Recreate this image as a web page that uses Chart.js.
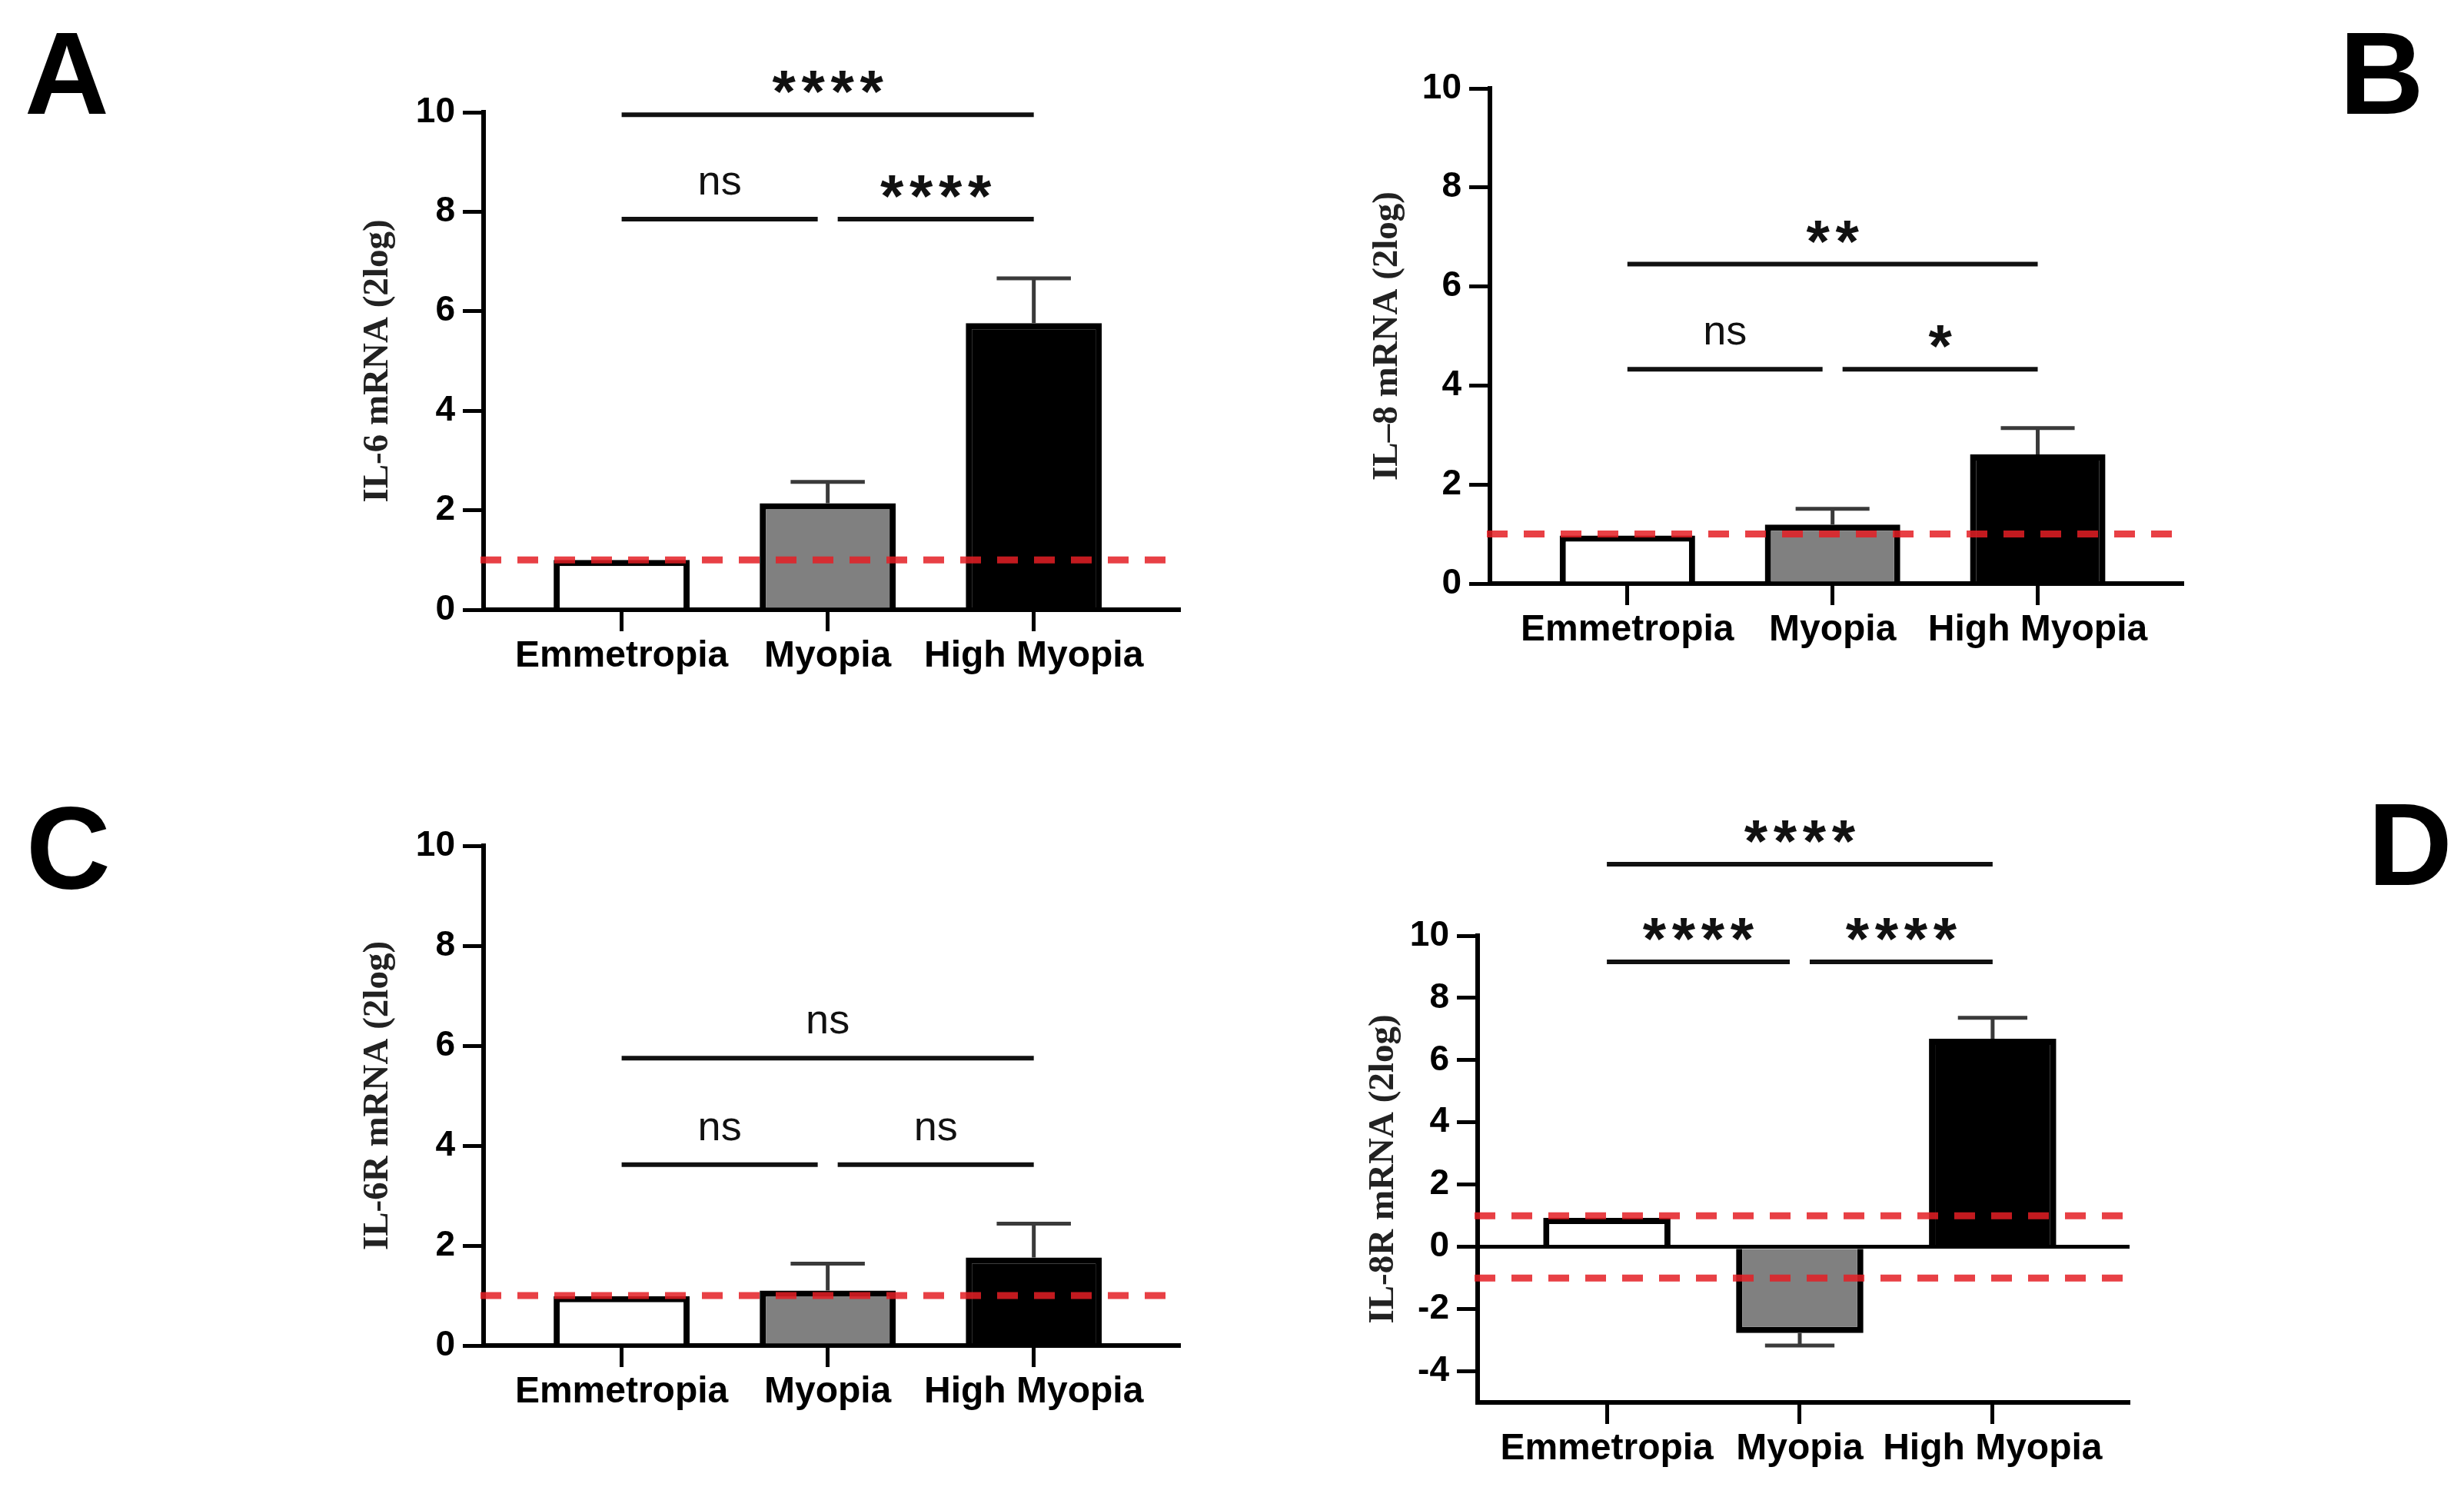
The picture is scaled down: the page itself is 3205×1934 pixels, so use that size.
<!DOCTYPE html>
<html>
<head>
<meta charset="utf-8">
<title>IL-6 / IL-8 mRNA</title>
<script src="https://cdn.jsdelivr.net/npm/chart.js@4.4.1/dist/chart.umd.min.js"></script>
<style>
  body { margin: 0; background: #fff; width: 3205px; height: 1934px; position: relative; overflow: hidden; }
  canvas { position: absolute; }
  .letter { position: absolute; font: bold 152px "Liberation Sans", Arial, sans-serif; line-height: 1; color: #000; }
</style>
</head>
<body>
<div class="letter" style="left:32px;top:19px">A</div>
<div class="letter" style="left:3043px;top:19px">B</div>
<div class="letter" style="left:34px;top:1027px">C</div>
<div class="letter" style="left:3080px;top:1022px">D</div>

<canvas id="chartA" width="1180" height="960" style="left:400px;top:0px"></canvas>
<canvas id="chartB" width="1190" height="960" style="left:1700px;top:0px"></canvas>
<canvas id="chartC" width="1180" height="974" style="left:400px;top:960px"></canvas>
<canvas id="chartD" width="1120" height="974" style="left:1700px;top:960px"></canvas>

<script>
// datos
const groups = ['Emmetropia', 'Myopia', 'High Myopia'];
const yTicksMain = [0, 2, 4, 6, 8, 10];
const yTicksD = [-4, -2, 0, 2, 4, 6, 8, 10];

const il6Mean = [1.0, 2.14, 5.76];
const il6Sem = [0, 0.43, 0.90];
const il8Mean = [0.97, 1.19, 2.61];
const il8Sem = [0, 0.32, 0.53];
const il6rMean = [0.99, 1.10, 1.76];
const il6rSem = [0, 0.54, 0.68];
const il8rMean = [0.93, -2.77, 6.69];
const il8rSem = [0, 0.40, 0.67];

// comparaciones: pares de grupos, texto y altura de la barra
const sigPairs = [[0, 2], [0, 1], [1, 2]];
const il6SigText = ['****', 'ns', '****'];
const il6SigY = [9.95, 7.85, 7.85];
const il8SigText = ['**', 'ns', '*'];
const il8SigY = [6.45, 4.33, 4.33];
const il6rSigText = ['ns', 'ns', 'ns'];
const il6rSigY = [5.75, 3.62, 3.62];
const il8rSigText = ['****', '****', '****'];
const il8rSigY = [12.3, 9.16, 9.16];

// lineas de referencia (rojas)
const refUp = [1];
const refBoth = [1, -1];

const SANS = '"Liberation Sans", Arial, sans-serif';
const SERIF = '"Liberation Serif", "Times New Roman", serif';
const barFill = ['#ffffff', '#808080', '#000000'];

const panels = [
  { id: 'chartA', title: 'IL-6 mRNA (2log)', mean: il6Mean, sem: il6Sem, sigText: il6SigText, sigY: il6SigY,
    yMin: 0, yMax: 10, yTicks: yTicksMain, refs: refUp, zeroLine: false,
    padTop: 146, padRight: 45, yWidth: 229, xHeight: 167, titlePad: 64 },
  { id: 'chartB', title: 'IL–8 mRNA (2log)', mean: il8Mean, sem: il8Sem, sigText: il8SigText, sigY: il8SigY,
    yMin: 0, yMax: 10, yTicks: yTicksMain, refs: refUp, zeroLine: false,
    padTop: 115, padRight: 50, yWidth: 238, xHeight: 201, titlePad: 77 },
  { id: 'chartC', title: 'IL-6R mRNA (2log)', mean: il6rMean, sem: il6rSem, sigText: il6rSigText, sigY: il6rSigY,
    yMin: 0, yMax: 10, yTicks: yTicksMain, refs: refUp, zeroLine: false,
    padTop: 140, padRight: 45, yWidth: 229, xHeight: 184, titlePad: 64 },
  { id: 'chartD', title: 'IL-8R mRNA (2log)', mean: il8rMean, sem: il8rSem, sigText: il8rSigText, sigY: il8rSigY,
    yMin: -5, yMax: 10, yTicks: yTicksD, refs: refBoth, zeroLine: true,
    padTop: 257, padRight: 50, yWidth: 222, xHeight: 110, titlePad: 72 }
];

function centeredText(ctx, str, cx, cy) {
  const m = ctx.measureText(str);
  ctx.fillText(str, cx, cy + (m.actualBoundingBoxAscent - m.actualBoundingBoxDescent) / 2);
}

// barras de error, lineas rojas y comparaciones
function makeAnnotate(p) {
  return {
    id: 'annotate',
    afterDatasetsDraw(chart) {
      const { ctx, chartArea, scales: { x, y } } = chart;
      const pitch = x.getPixelForValue(1) - x.getPixelForValue(0);
      ctx.save();

      ctx.strokeStyle = '#3a3a3a';
      ctx.lineWidth = 5;
      p.mean.forEach((m, i) => {
        const e = p.sem[i];
        if (!e) return;
        const px = x.getPixelForValue(i);
        const y0 = y.getPixelForValue(m);
        const y1 = y.getPixelForValue(m + Math.sign(m) * e);
        ctx.beginPath();
        ctx.moveTo(px, y0);
        ctx.lineTo(px, y1);
        ctx.moveTo(px - pitch * 0.18, y1);
        ctx.lineTo(px + pitch * 0.18, y1);
        ctx.stroke();
      });

      ctx.strokeStyle = 'rgba(228, 30, 36, 0.85)';
      ctx.lineWidth = 9;
      ctx.setLineDash([27, 21]);
      p.refs.forEach(r => {
        const ry = y.getPixelForValue(r);
        ctx.beginPath();
        ctx.moveTo(chartArea.left - 4, ry);
        ctx.lineTo(chartArea.right - 8, ry);
        ctx.stroke();
      });
      ctx.setLineDash([]);

      ctx.strokeStyle = '#111';
      ctx.fillStyle = '#111';
      ctx.lineWidth = 6;
      ctx.textAlign = 'center';
      sigPairs.forEach(([a, b], k) => {
        const level = p.sigY[k];
        const shared = (idx) => sigPairs.some(([c, d], j) => j !== k && p.sigY[j] === level && (c === idx || d === idx));
        let x1 = x.getPixelForValue(a);
        let x2 = x.getPixelForValue(b);
        if (shared(a)) x1 += 13;
        if (shared(b)) x2 -= 13;
        const ly = y.getPixelForValue(level);
        ctx.beginPath();
        ctx.moveTo(x1, ly);
        ctx.lineTo(x2, ly);
        ctx.stroke();

        const label = p.sigText[k];
        const cx = (x1 + x2) / 2;
        if (label === 'ns') {
          ctx.font = '54px ' + SANS;
          centeredText(ctx, label, cx, ly - 46);
        } else {
          ctx.font = 'bold 78px ' + SANS;
          const step = 38;
          for (let s = 0; s < label.length; s++) {
            centeredText(ctx, '*', cx + (s - (label.length - 1) / 2) * step, ly - 42);
          }
        }
      });
      ctx.restore();
    }
  };
}

function buildChart(p) {
  const canvas = document.getElementById(p.id);
  return new Chart(canvas, {
    type: 'bar',
    data: {
      datasets: [{
        data: p.mean.map((v, i) => ({ x: i, y: v })),
        backgroundColor: barFill,
        borderColor: '#000',
        borderWidth: 8,
        borderSkipped: 'start',
        barPercentage: 0.66,
        categoryPercentage: 1
      }]
    },
    options: {
      responsive: false,
      animation: false,
      layout: { padding: { top: p.padTop, right: p.padRight, left: 0, bottom: 0 } },
      plugins: { legend: { display: false }, tooltip: { enabled: false } },
      scales: {
        x: {
          type: 'linear',
          offset: false,
          min: -0.67,
          max: 2.71,
          afterBuildTicks: s => { s.ticks = groups.map((g, i) => ({ value: i })); },
          afterFit: s => { s.height = p.xHeight; },
          ticks: {
            callback: v => groups[v],
            font: { family: SANS, size: 48, weight: 'bold' },
            color: '#000',
            maxRotation: 0,
            minRotation: 0,
            autoSkip: false,
            padding: 4
          },
          grid: { offset: false, drawOnChartArea: false, drawTicks: true, tickLength: 28, tickWidth: 5, tickColor: '#000' },
          border: { display: true, color: '#000', width: 6 }
        },
        y: {
          min: p.yMin,
          max: p.yMax,
          afterBuildTicks: s => { s.ticks = p.yTicks.map(v => ({ value: v })); },
          afterFit: s => { s.width = p.yWidth; },
          ticks: {
            font: { family: SANS, size: 46, weight: 'bold' },
            color: '#000',
            padding: 10
          },
          grid: {
            drawOnChartArea: p.zeroLine,
            color: c => (c.tick && c.tick.value === 0 ? '#000' : 'rgba(0,0,0,0)'),
            lineWidth: 5,
            drawTicks: true,
            tickLength: 27,
            tickWidth: 5,
            tickColor: '#000'
          },
          border: { display: true, color: '#000', width: 6 },
          title: {
            display: true,
            text: p.title,
            font: { family: SERIF, size: 47, weight: 'bold' },
            color: '#222',
            padding: { top: p.titlePad, bottom: 0 }
          }
        }
      }
    },
    plugins: [makeAnnotate(p)]
  });
}

panels.forEach(buildChart);
</script>
</body>
</html>
